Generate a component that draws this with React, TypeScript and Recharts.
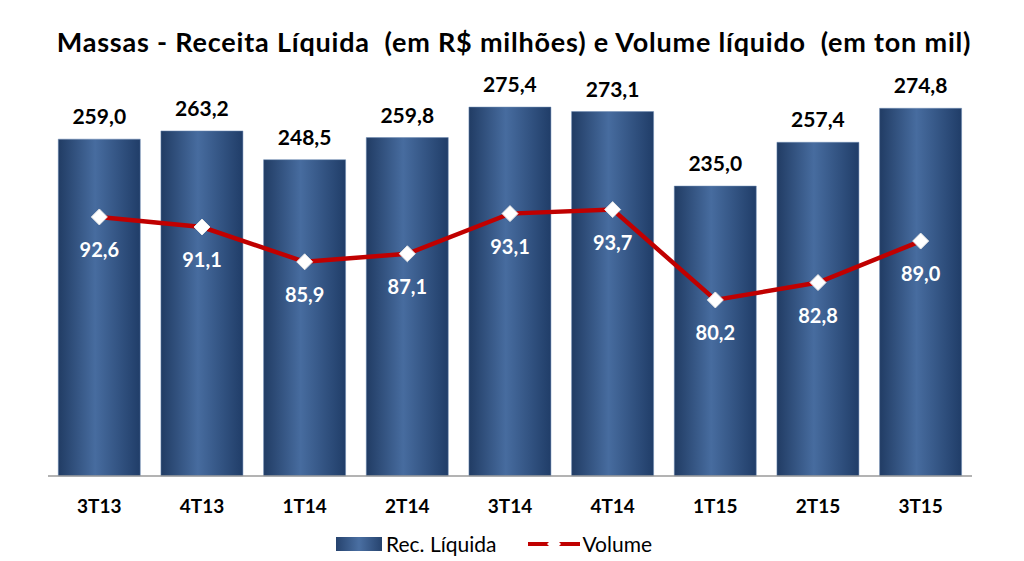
import React from "react";
import {
  ComposedChart,
  Bar,
  Line,
  XAxis,
  YAxis,
  LabelList,
} from "recharts";

const quarters = ["3T13", "4T13", "1T14", "2T14", "3T14", "4T14", "1T15", "2T15", "3T15"];
const receita = [259.0, 263.2, 248.5, 259.8, 275.4, 273.1, 235.0, 257.4, 274.8];
const volume = [92.6, 91.1, 85.9, 87.1, 93.1, 93.7, 80.2, 82.8, 89.0];

const data = quarters.map((q, i) => ({ q, receita: receita[i], volume: volume[i] }));

const FONT = "Lato, 'Open Sans', sans-serif";
const fmt = (v: number) => v.toFixed(1).replace(".", ",");

const Diamond = (props: any) => {
  const { cx, cy } = props;
  if (cx == null || cy == null) return null;
  const s = 8;
  return (
    <polygon
      points={`${cx},${cy - s} ${cx + s},${cy} ${cx},${cy + s} ${cx - s},${cy}`}
      fill="#ffffff"
      stroke="#e6e6e6"
      strokeWidth={1}
    />
  );
};

// legend drawn as plain html so it doesn't shrink the plot area
const ChartLegend = () => (
  <div
    style={{
      position: "absolute",
      top: 533,
      left: 336,
      display: "flex",
      alignItems: "center",
      fontFamily: FONT,
      fontSize: 21,
      color: "#000",
      lineHeight: "22px",
    }}
  >
    <svg width={46} height={14} style={{ marginRight: 4 }}>
      <defs>
        <linearGradient id="legBar" x1="0" y1="0" x2="1" y2="0">
          <stop offset="0%" stopColor="#26436e" />
          <stop offset="50%" stopColor="#4a6fa2" />
          <stop offset="100%" stopColor="#26436e" />
        </linearGradient>
      </defs>
      <rect x={0} y={0} width={46} height={14} fill="url(#legBar)" />
    </svg>
    <span style={{ marginRight: 32 }}>Rec. Líquida</span>
    <svg width={52} height={14} style={{ marginRight: 2 }}>
      <line x1={0} y1={7} x2={52} y2={7} stroke="#c00000" strokeWidth={4} />
      <polygon points="26,0 33,7 26,14 19,7" fill="#ffffff" />
    </svg>
    <span>Volume</span>
  </div>
);

export default function App() {
  document.body.style.margin = "0";
  return (
    <div style={{ position: "relative", width: 1024, height: 561, background: "#ffffff" }}>
      <div
        style={{
          position: "absolute",
          top: 25,
          left: 0,
          width: 1024,
          paddingLeft: 2,
          textAlign: "center",
          fontFamily: FONT,
          fontWeight: 700,
          fontSize: 27,
          letterSpacing: 0.8,
          color: "#000",
          zIndex: 1,
          whiteSpace: "pre",
        }}
      >
        Massas - Receita Líquida  (em R$ milhões) e Volume líquido  (em ton mil)
      </div>
      <ComposedChart
        width={1024}
        height={561}
        data={data}
        margin={{ top: 59, right: 52, bottom: 55, left: 48 }}
        barCategoryGap="10%"
      >
        <defs>
          <linearGradient id="barGrad" x1="0" y1="0" x2="1" y2="0">
            <stop offset="0%" stopColor="#213c64" />
            <stop offset="45%" stopColor="#476c9f" />
            <stop offset="100%" stopColor="#203d68" />
          </linearGradient>
        </defs>
        <XAxis
          dataKey="q"
          height={30}
          axisLine={{ stroke: "#9a9a9a", strokeWidth: 1.5 }}
          tickLine={false}
          tickMargin={18}
          tick={{ fontFamily: FONT, fontWeight: 700, fontSize: 19, fill: "#000" }}
        />
        <YAxis yAxisId="bar" hide domain={[86.7, 300]} />
        <YAxis yAxisId="line" hide domain={[53.9, 116.2]} />
        <Bar
          yAxisId="bar"
          dataKey="receita"
          fill="url(#barGrad)"
          stroke="#6d8bb5"
          strokeWidth={0.5}
          isAnimationActive={false}
        >
          <LabelList
            dataKey="receita"
            position="top"
            offset={15}
            formatter={(v: any) => fmt(Number(v))}
            style={{ fontFamily: FONT, fontWeight: 700, fontSize: 21, fill: "#000" }}
          />
        </Bar>
        <Line
          yAxisId="line"
          dataKey="volume"
          type="linear"
          stroke="#c00000"
          strokeWidth={4.5}
          dot={<Diamond />}
          activeDot={false}
          isAnimationActive={false}
        >
          <LabelList
            dataKey="volume"
            position="bottom"
            offset={26}
            formatter={(v: any) => fmt(Number(v))}
            style={{ fontFamily: FONT, fontWeight: 700, fontSize: 20, fill: "#ffffff" }}
          />
        </Line>
      </ComposedChart>
      <ChartLegend />
    </div>
  );
}
